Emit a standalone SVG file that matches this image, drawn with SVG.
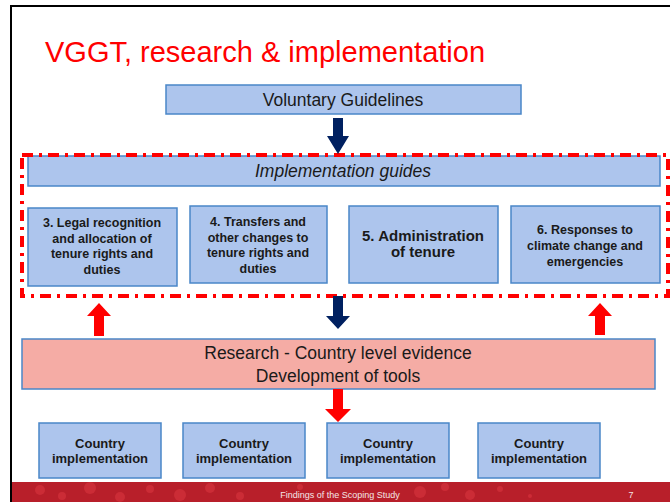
<svg xmlns="http://www.w3.org/2000/svg" width="670" height="502" viewBox="0 0 670 502">
<defs>
<style>
.box{fill:#adc5ed;stroke:#4a86c8;stroke-width:1.5}
.pink{fill:#f5aca5;stroke:#4a86c8;stroke-width:1.5}
.t{font-family:"Liberation Sans",Arial,sans-serif;fill:#1a1a1a;text-anchor:middle}
.b{font-weight:bold;font-size:12.5px}
.n{font-size:17.5px}
.dark{fill:#002060}
.red{fill:#ff0000}
</style>
</defs>
<rect x="0" y="0" width="670" height="502" fill="#ffffff"/>
<rect x="11" y="6" width="680" height="520" fill="none" stroke="#000" stroke-width="2"/>
<g id="footer">
<rect x="12" y="482" width="658" height="20" fill="#b81f2a"/>
<g fill="#d4323c" opacity="0.7">
<circle cx="40" cy="490" r="5"/><circle cx="62" cy="496" r="4"/><circle cx="90" cy="488" r="6"/><circle cx="120" cy="497" r="5"/>
<circle cx="150" cy="489" r="4"/><circle cx="180" cy="495" r="6"/><circle cx="210" cy="488" r="5"/><circle cx="240" cy="496" r="4"/>
<circle cx="300" cy="487" r="3"/><circle cx="420" cy="492" r="6"/><circle cx="445" cy="487" r="4"/><circle cx="470" cy="495" r="5"/>
<circle cx="500" cy="489" r="3"/><circle cx="530" cy="496" r="2"/>
</g>
<text x="340" y="498" font-family="'Liberation Sans',Arial,sans-serif" font-size="9" fill="#f4e6e6" text-anchor="middle">Findings of the Scoping Study</text>
<text x="631" y="498" font-family="'Liberation Sans',Arial,sans-serif" font-size="9" fill="#f4e6e6" text-anchor="middle">7</text>
</g>
<text id="title" x="45" y="62" font-family="'Liberation Sans',Arial,sans-serif" font-size="29" fill="#ff0000">VGGT, research &amp; implementation</text>
<g id="voluntary">
<rect class="box" x="166" y="85" width="355" height="29"/>
<text class="t n" x="343" y="106">Voluntary Guidelines</text>
</g>
<g id="impl-guides">
<rect class="box" x="28" y="156" width="632" height="30"/>
<text class="t n" x="343" y="177" font-style="italic">Implementation guides</text>
</g>
<g id="guide3">
<rect class="box" x="28" y="208" width="149" height="78"/>
<text class="t b" x="102" y="227">3. Legal recognition<tspan x="102" dy="15.5">and allocation of</tspan><tspan x="102" dy="15.5">tenure rights and</tspan><tspan x="102" dy="15.5">duties</tspan></text>
</g>
<g id="guide4">
<rect class="box" x="190" y="206" width="137" height="77"/>
<text class="t b" x="258" y="226">4. Transfers and<tspan x="258" dy="15.5">other changes to</tspan><tspan x="258" dy="15.5">tenure rights and</tspan><tspan x="258" dy="15.5">duties</tspan></text>
</g>
<g id="guide5">
<rect class="box" x="349" y="206" width="149" height="77"/>
<text class="t" x="423" y="241" font-weight="bold" font-size="15">5. Administration<tspan x="423" dy="16">of tenure</tspan></text>
</g>
<g id="guide6">
<rect class="box" x="511" y="206" width="149" height="77"/>
<text class="t b" x="585" y="234">6. Responses to<tspan x="585" dy="16">climate change and</tspan><tspan x="585" dy="16">emergencies</tspan></text>
</g>
<rect id="impl-group" x="22" y="155" width="646" height="141" fill="none" stroke="#ff0000" stroke-width="4" stroke-dasharray="11 6 3 6"/>
<g id="research">
<rect class="pink" x="22" y="339" width="633" height="50"/>
<text class="t n" x="338" y="359">Research - Country level evidence<tspan x="338" dy="23">Development of tools</tspan></text>
</g>
<g id="country1">
<rect class="box" x="39" y="423" width="122" height="55"/>
<text class="t" x="100" y="448" font-weight="bold" font-size="13">Country<tspan x="100" dy="14.5">implementation</tspan></text>
</g>
<g id="country2">
<rect class="box" x="183" y="423" width="122" height="55"/>
<text class="t" x="244" y="448" font-weight="bold" font-size="13">Country<tspan x="244" dy="14.5">implementation</tspan></text>
</g>
<g id="country3">
<rect class="box" x="327" y="423" width="122" height="55"/>
<text class="t" x="388" y="448" font-weight="bold" font-size="13">Country<tspan x="388" dy="14.5">implementation</tspan></text>
</g>
<g id="country4">
<rect class="box" x="478" y="423" width="122" height="55"/>
<text class="t" x="539" y="448" font-weight="bold" font-size="13">Country<tspan x="539" dy="14.5">implementation</tspan></text>
</g>
<g id="connectors">
<polygon class="dark" points="333,118 343,118 343,136 349,136 338,154 327,136 333,136"/>
<polygon class="dark" points="333,296 343,296 343,316 350,316 338,329 326,316 333,316"/>
<polygon class="red" points="333,389 343,389 343,409 351,409 338,422 325,409 333,409"/>
<polygon class="red" points="94,336 104,336 104,316 111,316 99,303 87,316 94,316"/>
<polygon class="red" points="595,335 605,335 605,316 612,316 600,303 588,316 595,316"/>
</g>
</svg>
